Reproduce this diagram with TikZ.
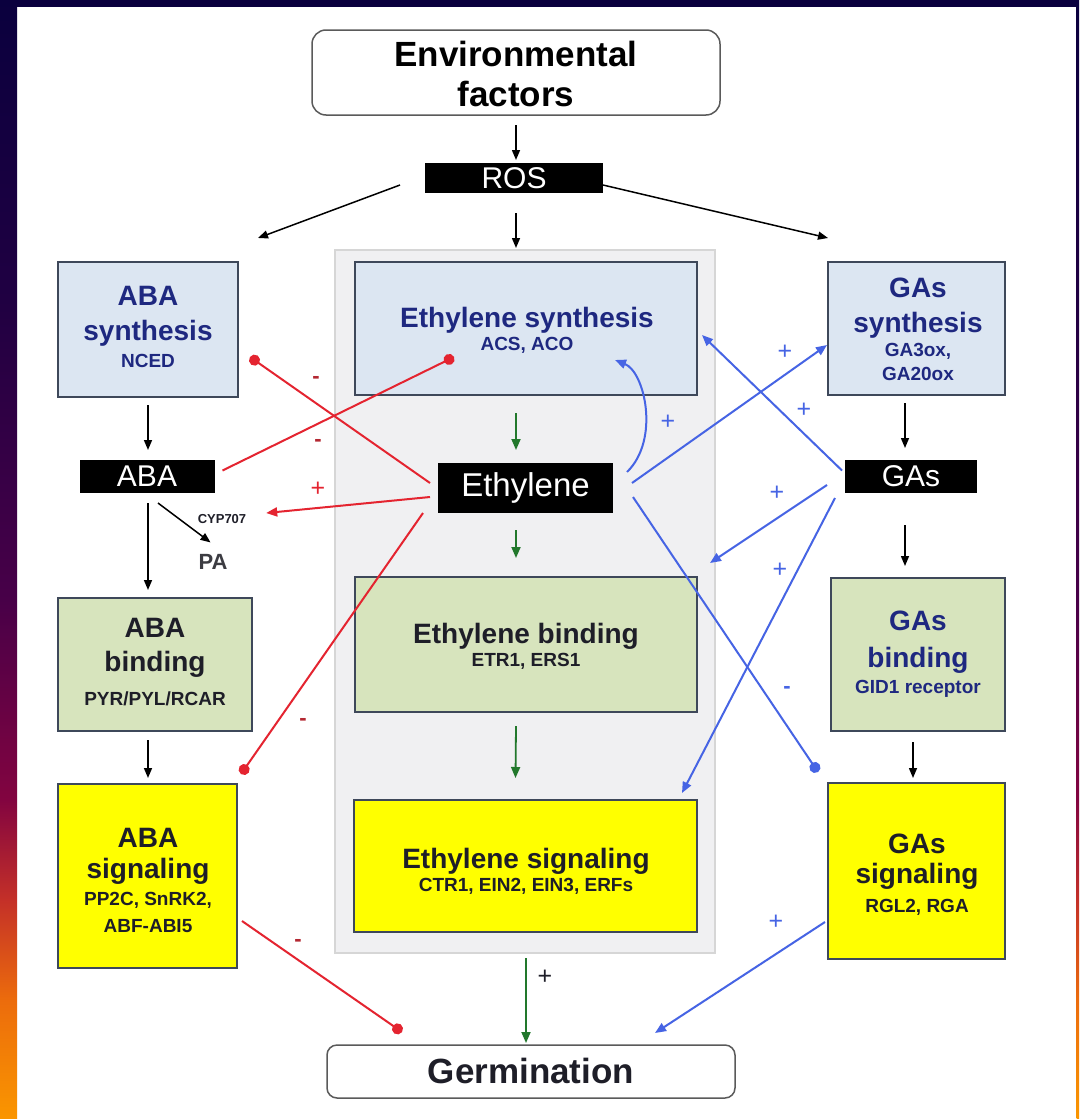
\documentclass[tikz,border=0pt]{standalone}
\usepackage{fontspec}
\setmainfont{Liberation Sans}
\usetikzlibrary{arrows.meta,calc}

% frame colours
\definecolor{eNavy}{RGB}{10,0,62}
\definecolor{eIndigo}{RGB}{32,0,66}
\definecolor{ePlum}{RGB}{72,0,72}
\definecolor{eMagenta}{RGB}{130,4,64}
\definecolor{eRed}{RGB}{196,48,40}
\definecolor{eAmber}{RGB}{236,108,12}
\definecolor{eOrange}{RGB}{250,150,0}
% boxes
\definecolor{synFill}{RGB}{220,230,242}
\definecolor{bindFill}{RGB}{215,228,189}
\definecolor{sigFill}{RGB}{255,255,0}
\definecolor{boxEdge}{RGB}{62,72,90}
\definecolor{panelFill}{RGB}{240,240,242}
\definecolor{panelEdge}{RGB}{214,214,214}
\definecolor{endEdge}{RGB}{90,90,90}
% text and connectors
\definecolor{headBlue}{RGB}{30,40,128}
\definecolor{inkDark}{RGB}{30,30,40}
\definecolor{inkGray}{RGB}{60,60,66}
\definecolor{inhRed}{RGB}{228,36,48}
\definecolor{signRed}{RGB}{180,40,50}
\definecolor{actBlue}{RGB}{70,100,228}
\definecolor{ethGreen}{RGB}{34,120,44}

\pgfdeclareverticalshading{edgeband}{100bp}{color(0bp)=(eOrange); color(25bp)=(eOrange); color(30.3bp)=(eAmber); color(34.8bp)=(eRed); color(39.3bp)=(eMagenta); color(48.2bp)=(ePlum); color(61.6bp)=(eIndigo); color(75bp)=(eNavy); color(100bp)=(eNavy)}

\newcommand\fBig{\fontsize{28}{32}\selectfont\bfseries}
\newcommand\fSmall{\fontsize{19}{22}\selectfont\bfseries}
\newcommand\fTitle{\fontsize{35}{40}\selectfont\bfseries}
\newcommand\fTag{\fontsize{30}{34}\selectfont}

\tikzset{
  every node/.style={inner sep=0pt, outer sep=0pt},
  panelbox/.style={draw=panelEdge, fill=panelFill, line width=1.5pt},
  stagebox/.style={draw=boxEdge, line width=1.8pt},
  synbox/.style={stagebox, fill=synFill},
  bindbox/.style={stagebox, fill=bindFill},
  sigbox/.style={stagebox, fill=sigFill},
  endbox/.style={draw=endEdge, line width=1.5pt, rounded corners=14pt, fill=white},
  tagbox/.style={fill=black, text=white, font=\fTag},
  bigtxt/.style={anchor=base, font=\fBig},
  smalltxt/.style={anchor=base, font=\fSmall},
  blk/.style={draw=black, line width=1.5pt, -{Triangle[length=10pt,width=8pt]}},
  grn/.style={draw=ethGreen, line width=1.8pt, -{Triangle[length=11pt,width=9pt]}},
  bluact/.style={draw=actBlue, line width=2pt, -{Triangle[length=11pt,width=9pt]}},
  bluinh/.style={draw=actBlue, line width=2pt, -{Circle[length=11pt]}},
  redinh/.style={draw=inhRed, line width=2pt, -{Circle[length=11pt]}},
  redact/.style={draw=inhRed, line width=2pt, -{Triangle[length=11pt,width=9pt]}},
  plussign/.style={font=\fontsize{25}{27}\selectfont},
  minussign/.style={font=\fontsize{22}{24}\selectfont\bfseries},
}

\begin{document}
\begin{tikzpicture}[x=1pt,y=-1pt]
\useasboundingbox (0,0) rectangle (1079,1119);

% slide frame
\fill[white] (0,0) rectangle (1079,1119);
\shade[shading=edgeband] (0,0) rectangle (17,1119);
\shade[shading=edgeband] (1076.5,0) rectangle (1079,1119);
\fill[eNavy] (0,0) rectangle (1079,7);

% ethylene pathway panel
\node[panelbox, minimum width=380pt, minimum height=703pt] (panel) at (525,601.5) {};

% top and bottom terminals
\node[endbox, minimum width=408pt, minimum height=85pt] (env) at (516,72.5) {};
\node[anchor=base, font=\fTitle] (envA) at (516,66) {Environmental};
\node[anchor=base, font=\fTitle] (envB) at (516,106) {factors};

\node[endbox, rounded corners=10pt, minimum width=408pt, minimum height=53pt] (germ) at (531,1071.5) {};
\node[anchor=base, font=\fTitle, text=inkDark] (germT) at (531,1083.5) {Germination};

\node[tagbox, minimum width=178pt, minimum height=30pt] (ros) at (514,178) {ROS};

% synthesis row
\node[synbox, minimum width=180pt, minimum height=135pt] (abasyn) at (148,329.5) {};
\node[bigtxt, text=headBlue] (abasynA) at (148,305) {ABA};
\node[bigtxt, text=headBlue] (abasynB) at (148,340) {synthesis};
\node[smalltxt, text=headBlue] (abasynC) at (148,367) {NCED};

\node[synbox, minimum width=342pt, minimum height=133pt] (ethsyn) at (526,328.5) {};
\node[bigtxt, text=headBlue] (ethsynA) at (527,327) {Ethylene synthesis};
\node[smalltxt, text=headBlue] (ethsynB) at (527,350) {ACS, ACO};

\node[synbox, minimum width=177pt, minimum height=133pt] (gasyn) at (916.5,328.5) {};
\node[bigtxt, text=headBlue] (gasynA) at (918,297) {GAs};
\node[bigtxt, text=headBlue] (gasynB) at (918,332) {synthesis};
\node[smalltxt, text=headBlue] (gasynC) at (918,356) {GA3ox,};
\node[smalltxt, text=headBlue] (gasynD) at (918,380) {GA20ox};

% hormone tags
\node[tagbox, minimum width=135pt, minimum height=33pt] (aba) at (147,476.5) {ABA};
\node[tagbox, font=\fontsize{33}{36}\selectfont, minimum width=175pt, minimum height=50pt] (eth) at (525.5,488) {Ethylene};
\node[tagbox, minimum width=132pt, minimum height=33pt] (gas) at (911,476.5) {GAs};

\node[font=\fontsize{13}{15}\selectfont\bfseries, text=inkDark] (cyp) at (222,519) {CYP707};
\node[font=\fontsize{22}{24}\selectfont\bfseries, text=inkGray] (pa) at (213,562) {PA};

% binding row
\node[bindbox, minimum width=194pt, minimum height=133pt] (abab) at (155,664.5) {};
\node[bigtxt, text=inkDark] (ababA) at (155,637) {ABA};
\node[bigtxt, text=inkDark] (ababB) at (155,671) {binding};
\node[smalltxt, text=inkDark] (ababC) at (155,705) {PYR/PYL/RCAR};

\node[bindbox, minimum width=342pt, minimum height=135pt] (ethb) at (526,644.5) {};
\node[bigtxt, text=inkDark] (ethbA) at (526,643) {Ethylene binding};
\node[smalltxt, text=inkDark] (ethbB) at (526,666) {ETR1, ERS1};

\node[bindbox, minimum width=174pt, minimum height=153pt] (gasb) at (918,654.5) {};
\node[bigtxt, text=headBlue] (gasbA) at (918,630) {GAs};
\node[bigtxt, text=headBlue] (gasbB) at (918,667) {binding};
\node[smalltxt, text=headBlue] (gasbC) at (918,693) {GID1 receptor};

% signaling row
\node[sigbox, minimum width=179pt, minimum height=184pt] (abas) at (147.5,876) {};
\node[bigtxt, text=inkDark] (abasA) at (148,847) {ABA};
\node[bigtxt, text=inkDark] (abasB) at (148,878) {signaling};
\node[smalltxt, text=inkDark] (abasC) at (148,905) {PP2C, SnRK2,};
\node[smalltxt, text=inkDark] (abasD) at (148,932) {ABF-ABI5};

\node[sigbox, minimum width=343pt, minimum height=132pt] (eths) at (525.5,866) {};
\node[bigtxt, text=inkDark] (ethsA) at (526,868) {Ethylene signaling};
\node[smalltxt, text=inkDark] (ethsB) at (526,891) {CTR1, EIN2, EIN3, ERFs};

\node[sigbox, minimum width=177pt, minimum height=176pt] (gass) at (916.5,871) {};
\node[bigtxt, text=inkDark] (gassA) at (917,853) {GAs};
\node[bigtxt, text=inkDark] (gassB) at (917,883) {signaling};
\node[smalltxt, text=inkDark] (gassC) at (917,912) {RGL2, RGA};

% ROS signalling
\draw[blk] ($(env.south)+(0,10)$) -- ($(ros.north)+(2,-3)$);
\draw[blk] ($(ros.west)+(-25,7)$) -- ($(abasyn.north east)+(20,-24)$);
\draw[blk] ($(ros.south)+(2,20)$) -- ($(panel.north)+(-9,-2)$);
\draw[blk] ($(ros.east)+(0,7)$) -- ($(gasyn.north west)+(0,-24)$);

% ABA pathway
\draw[blk] ($(abasyn.south)+(0,8)$) -- ($(aba.north)+(1,-10)$);
\draw[blk] ($(aba.south)+(1,10)$) -- ($(abab.north)+(-7,-8)$);
\draw[blk] ($(abab.south)+(-7,9)$) -- ($(abas.north)+(0.5,-6)$);
\draw[blk] ($(aba.south)+(11,10)$) -- ($(pa.north west)+(12,-12)$);

% GA pathway
\draw[blk] ($(gasyn.south)+(-11.5,8)$) -- ($(gas.north)+(-6,-12)$);
\draw[blk] ($(gas.south)+(-6,32)$) -- ($(gasb.north)+(-13,-12)$);
\draw[blk] ($(gasb.south)+(-5,11)$) -- ($(gass.north)+(-3.5,-5)$);

% ethylene pathway
\draw[grn] ($(ethsyn.south)+(-10,18)$) -- ($(eth.north)+(-9.5,-13)$);
\draw[grn] ($(eth.south)+(-9.5,17)$) -- ($(ethb.north)+(-10,-19)$);
\draw[grn] ($(ethb.south)+(-10,14)$) -- ($(eths.north)+(-10,-22)$);
\draw[grn] ($(panel.south)+(1,5)$) -- ($(germ.north)+(-5,-2)$);
\node[plussign, text=inkDark] (sG) at (545,977) {+};

% ethylene / ABA crosstalk
\draw[redinh] ($(eth.west)+(-8,-5)$) -- ($(abasyn.east)+(12,27.5)$);
\draw[redinh] ($(aba.east)+(8,-6)$) -- ($(ethsyn.south west)+(99,-38)$);
\draw[redact] ($(eth.west)+(-8,9)$) -- ($(cyp.east)+(20,-6)$);
\draw[redinh] ($(eth.south west)+(-15,0)$) -- ($(abas.north east)+(4,-10)$);
\draw[redinh] ($(abas.east)+(5,45)$) -- ($(germ.north west)+(75,-13)$);
\node[minussign, text=signRed] (sR1) at (316,380) {-};
\node[minussign, text=signRed] (sR2) at (318,443) {-};
\node[plussign, text=inhRed] (sR3) at (318,489) {+};
\node[minussign, text=signRed] (sR4) at (303,722) {-};
\node[minussign, text=signRed] (sR5) at (298,943) {-};

% ethylene / GA crosstalk
\draw[bluact] ($(eth.east)+(14,-16)$) .. controls ($(eth.east)+(47,-48)$) and ($(ethsyn.south east)+(-52,-23)$) .. ($(ethsyn.south east)+(-82,-35)$);
\draw[bluact] ($(eth.east)+(19,-5)$) -- ($(gasyn.west)+(-1,16.5)$);
\draw[bluact] ($(gas.west)+(-3,-6)$) -- ($(ethsyn.east)+(5,6.5)$);
\draw[bluact] ($(gas.west)+(-18,8.5)$) -- ($(ethb.north east)+(13,-14)$);
\draw[bluact] ($(gas.south west)+(-10,5)$) -- ($(eths.north east)+(-15,-7)$);
\draw[bluinh] ($(eth.east)+(20,9)$) -- ($(gass.north west)+(-10,-11)$);
\draw[bluact] ($(gass.west)+(-3,51)$) -- ($(germ.north east)+(-80,-12)$);
\node[plussign, text=actBlue] (sB1) at (668,422) {+};
\node[plussign, text=actBlue] (sB2) at (785,352) {+};
\node[plussign, text=actBlue] (sB3) at (804,410) {+};
\node[plussign, text=actBlue] (sB4) at (777,493) {+};
\node[plussign, text=actBlue] (sB5) at (780,570) {+};
\node[minussign, text=actBlue] (sB6) at (787,690) {-};
\node[plussign, text=actBlue] (sB7) at (776,922) {+};
\end{tikzpicture}
\end{document}
